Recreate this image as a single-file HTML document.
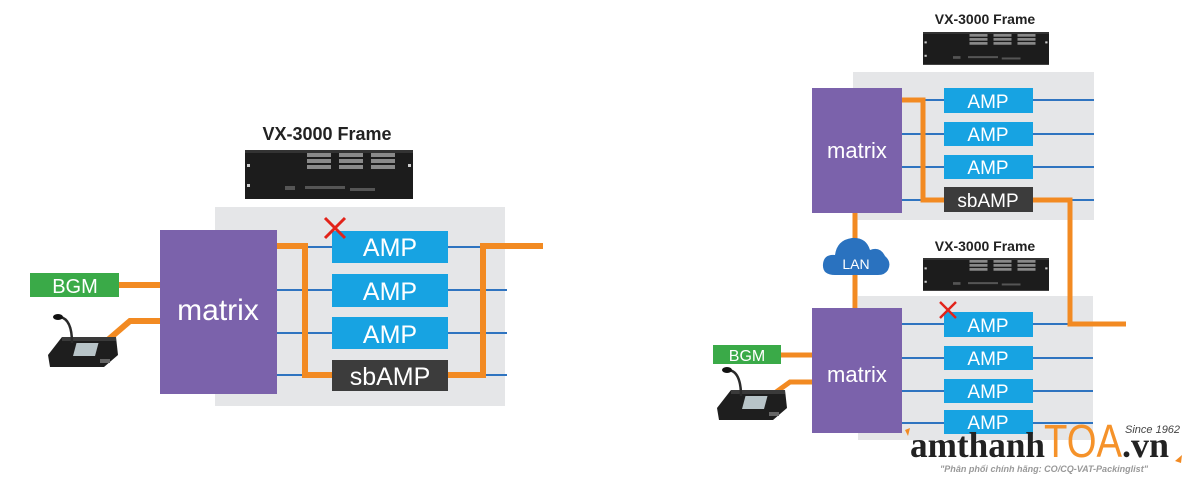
<!DOCTYPE html>
<html><head><meta charset="utf-8"><style>
html,body{margin:0;padding:0;background:#fff;width:1200px;height:490px;overflow:hidden}
svg text{font-family:"Liberation Sans",sans-serif}
</style></head><body>
<svg width="1200" height="490" viewBox="0 0 1200 490" xmlns="http://www.w3.org/2000/svg">
<defs>
<g id="rack">
<rect x="0" y="0" width="168" height="49" fill="#1c1c1c"/>
<rect x="0" y="0" width="168" height="3" fill="#333"/>
<g fill="#8a8a8a">
<rect x="62" y="3" width="24" height="4"/><rect x="62" y="9" width="24" height="4"/><rect x="62" y="15" width="24" height="4"/>
<rect x="94" y="3" width="24" height="4"/><rect x="94" y="9" width="24" height="4"/><rect x="94" y="15" width="24" height="4"/>
<rect x="126" y="3" width="24" height="4"/><rect x="126" y="9" width="24" height="4"/><rect x="126" y="15" width="24" height="4"/>
</g>
<rect x="2" y="14" width="3" height="3" fill="#ccc"/><rect x="2" y="34" width="3" height="3" fill="#ccc"/>
<rect x="163" y="14" width="3" height="3" fill="#ccc"/>
<g fill="#555"><rect x="40" y="36" width="10" height="4"/><rect x="60" y="36" width="40" height="3"/><rect x="105" y="38" width="25" height="3"/></g>
</g>
<g id="mic">
<path d="M0 40 L14 22 L68 22 L70 40 L56 52 L2 52 Z" fill="#1e1e1e"/>
<path d="M14 22 L68 22 L68 26 L14 26 Z" fill="#3a3a3a"/>
<rect x="28" y="28" width="22" height="13" fill="#b8c4c8" transform="skewX(-15) translate(8 0)"/>
<path d="M12 2 Q24 4 24 28" stroke="#2a2a2a" stroke-width="2.5" fill="none"/>
<ellipse cx="10" cy="2" rx="5" ry="3" fill="#111"/>
<rect x="52" y="44" width="10" height="4" fill="#666"/>
</g>
<g id="cross"><path d="M0 0 L20 20 M20 0 L0 20" stroke="#e2231a" stroke-width="3"/></g>
</defs>

<!-- LEFT DIAGRAM -->
<text x="327" y="140" font-size="18" font-weight="bold" fill="#222" text-anchor="middle">VX-3000 Frame</text>
<use href="#rack" x="245" y="150"/>
<rect x="215" y="207" width="290" height="199" fill="#e5e6e8"/>
<g stroke="#2f74c0" stroke-width="2">
<line x1="277" y1="247" x2="505" y2="247"/><line x1="277" y1="290" x2="507" y2="290"/>
<line x1="277" y1="333" x2="507" y2="333"/><line x1="277" y1="375" x2="507" y2="375"/>
</g>
<g fill="none" stroke="#f28a22" stroke-width="6">
<polyline points="277,246 305,246 305,375 332,375"/>
<polyline points="448,375 483,375 483,246 543,246"/>
<line x1="119" y1="285" x2="160" y2="285"/>
<polyline points="102,345 130,321 160,321"/>
</g>
<rect x="160" y="230" width="117" height="164" fill="#7b62ab"/>
<text x="218" y="320" font-size="30" fill="#fff" text-anchor="middle">matrix</text>
<g fill="#17a3e2">
<rect x="332" y="231" width="116" height="32"/><rect x="332" y="274" width="116" height="33"/><rect x="332" y="317" width="116" height="32"/>
</g>
<rect x="332" y="360" width="116" height="31" fill="#3c3c3c"/>
<g font-size="25" fill="#fff" text-anchor="middle">
<text x="390" y="256">AMP</text><text x="390" y="300">AMP</text><text x="390" y="343">AMP</text><text x="390" y="385">sbAMP</text>
</g>
<use href="#cross" x="325" y="218"/>
<rect x="30" y="273" width="89" height="24" fill="#3aaa48"/>
<text x="75" y="293" font-size="20" fill="#fff" text-anchor="middle">BGM</text>
<use href="#mic" x="48" y="315"/>

<!-- RIGHT DIAGRAM -->
<text x="985" y="24" font-size="14" font-weight="bold" fill="#222" text-anchor="middle">VX-3000 Frame</text>
<use href="#rack" x="923" y="32" transform="translate(923 32) scale(0.75 0.67) translate(-923 -32)"/>
<rect x="853" y="72" width="241" height="148" fill="#e5e6e8"/>
<text x="985" y="251" font-size="14" font-weight="bold" fill="#222" text-anchor="middle">VX-3000 Frame</text>
<use href="#rack" x="923" y="258" transform="translate(923 258) scale(0.75 0.67) translate(-923 -258)"/>
<rect x="858" y="296" width="235" height="144" fill="#e5e6e8"/>
<g stroke="#2f74c0" stroke-width="2">
<line x1="902" y1="100" x2="1094" y2="100"/><line x1="902" y1="134" x2="1094" y2="134"/>
<line x1="902" y1="167" x2="1094" y2="167"/><line x1="902" y1="200" x2="1094" y2="200"/>
<line x1="902" y1="324" x2="1093" y2="324"/><line x1="902" y1="358" x2="1093" y2="358"/>
<line x1="902" y1="391" x2="1093" y2="391"/><line x1="902" y1="423" x2="1093" y2="423"/>
</g>
<g fill="none" stroke="#f28a22" stroke-width="5">
<polyline points="902,100 923,100 923,200 944,200"/>
<polyline points="1033,200 1070,200 1070,324 1126,324"/>
<line x1="855" y1="213" x2="855" y2="308"/>
<line x1="781" y1="355" x2="812" y2="355"/>
<polyline points="765,400 790,382 812,382"/>
</g>
<rect x="812" y="88" width="90" height="125" fill="#7b62ab"/>
<text x="857" y="158" font-size="22" fill="#fff" text-anchor="middle">matrix</text>
<rect x="812" y="308" width="90" height="125" fill="#7b62ab"/>
<text x="857" y="382" font-size="22" fill="#fff" text-anchor="middle">matrix</text>
<g fill="#17a3e2">
<rect x="944" y="88" width="89" height="25"/><rect x="944" y="122" width="89" height="24"/><rect x="944" y="155" width="89" height="24"/>
<rect x="944" y="312" width="89" height="25"/><rect x="944" y="346" width="89" height="24"/><rect x="944" y="379" width="89" height="24"/><rect x="944" y="410" width="89" height="24"/>
</g>
<rect x="944" y="187" width="89" height="25" fill="#3c3c3c"/>
<g font-size="19" fill="#fff" text-anchor="middle">
<text x="988" y="108">AMP</text><text x="988" y="141">AMP</text><text x="988" y="174">AMP</text><text x="988" y="207">sbAMP</text>
<text x="988" y="332">AMP</text><text x="988" y="365">AMP</text><text x="988" y="398">AMP</text><text x="988" y="429">AMP</text>
</g>
<use href="#cross" transform="translate(940 302) scale(0.8)"/>
<path d="M835 275 Q822 275 823 264 Q824 254 835 255 Q837 240 852 238 Q866 237 870 250 Q880 246 885 256 Q892 262 888 270 Q885 275 878 275 Z" fill="#2a72bf"/>
<text x="856" y="269" font-size="14" fill="#fff" text-anchor="middle">LAN</text>
<rect x="713" y="345" width="68" height="19" fill="#3aaa48"/>
<text x="747" y="361" font-size="16" fill="#fff" text-anchor="middle">BGM</text>
<use href="#mic" transform="translate(717 368) scale(1)"/>

<!-- LOGO -->
<path d="M905 430 l5 -2 l-2 8 Z" fill="#f28a22"/>
<path d="M1182 455 l-1 8 l-6 -2 Z" fill="#f28a22"/>
<text x="910" y="457" style="font-family:'Liberation Serif',serif" font-size="36" font-weight="bold" fill="#222" textLength="135" lengthAdjust="spacingAndGlyphs">amthanh</text>
<text x="1044" y="457" font-size="46" fill="#f5922a" textLength="78" lengthAdjust="spacingAndGlyphs">TOA</text>
<text x="1122" y="457" style="font-family:'Liberation Serif',serif" font-size="36" font-weight="bold" fill="#222">.vn</text>
<text x="1125" y="433" font-size="11" font-style="italic" fill="#444">Since 1962</text>
<text x="940" y="472" font-size="9.5" font-style="italic" font-weight="bold" fill="#999" textLength="208" lengthAdjust="spacingAndGlyphs">"Phân phối chính hãng: CO/CQ-VAT-Packinglist"</text>
</svg>
</body></html>
